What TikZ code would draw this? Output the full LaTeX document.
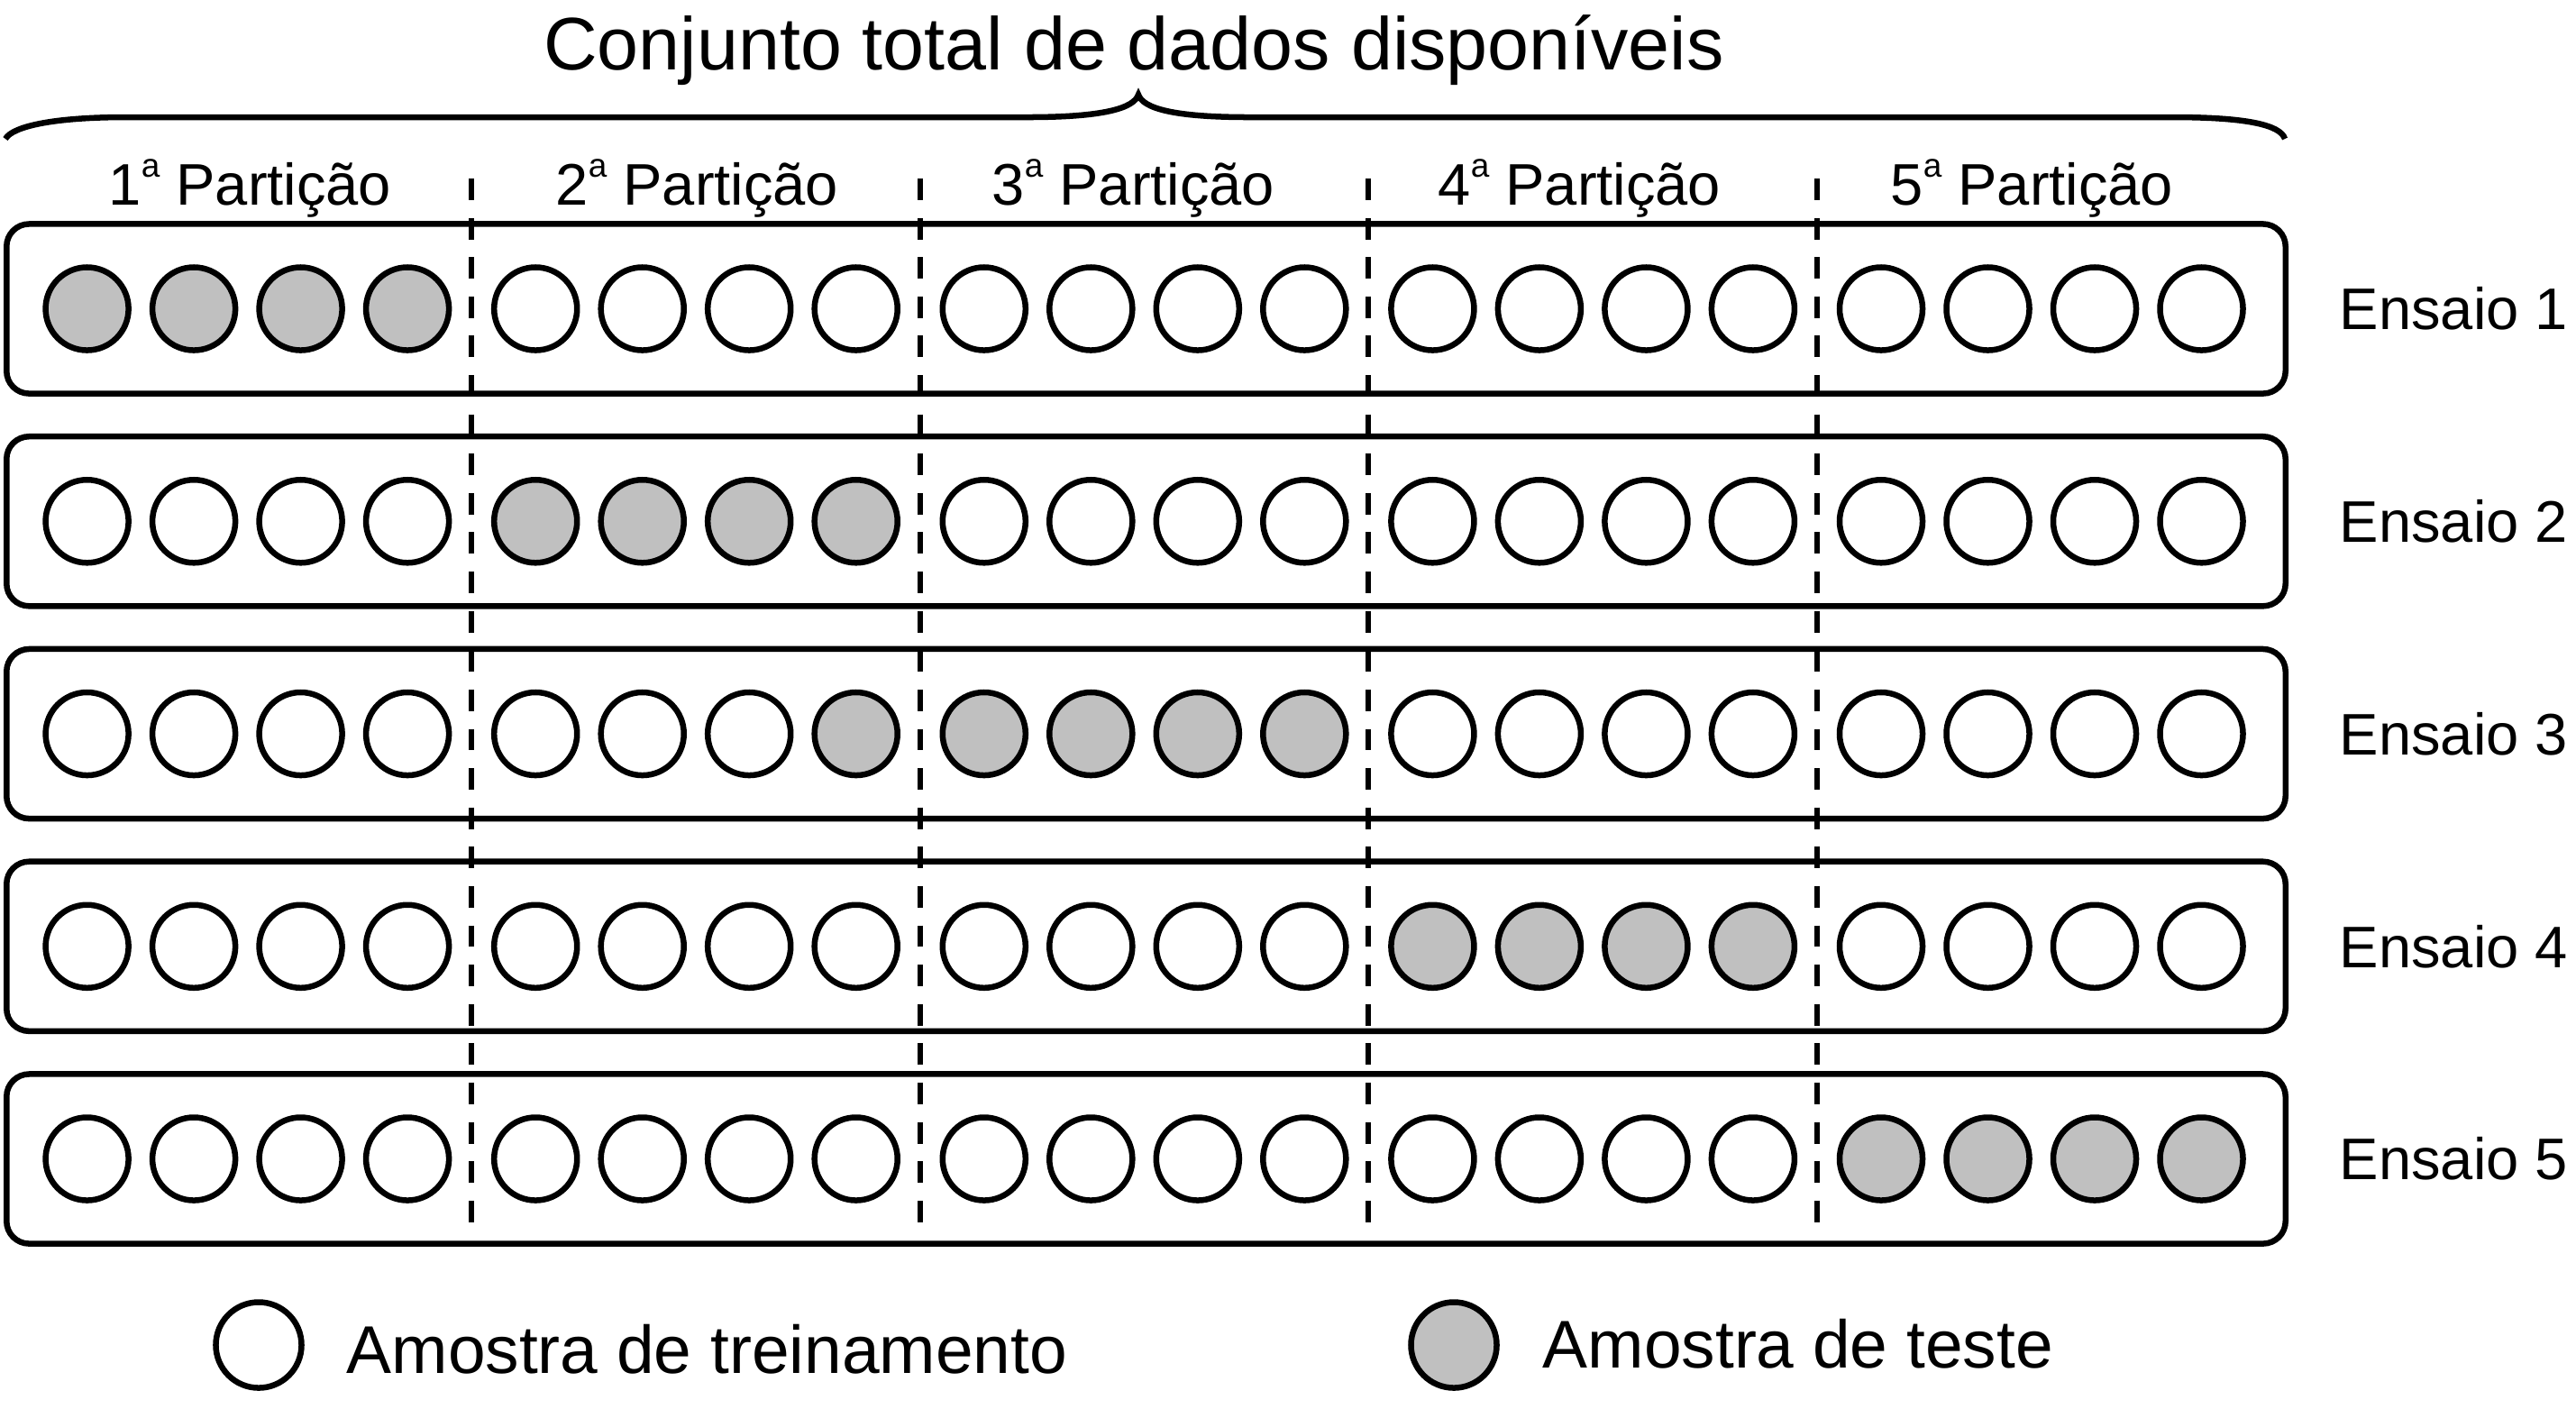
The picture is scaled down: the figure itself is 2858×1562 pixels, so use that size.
\documentclass[tikz,border=0pt]{standalone}
\usepackage{fontspec}
\setmainfont{Liberation Sans}
\definecolor{testgray}{RGB}{192,192,192}
\newcommand\ordA{\raisebox{8.6pt}{\fontsize{10.5}{12}\selectfont a}}
\tikzset{
  rowbox/.style={draw, line width=1.85pt, rounded corners=0.25cm, minimum width=25.27cm, minimum height=1.88cm, inner sep=0pt},
  sample/.style={circle, draw, line width=1.85pt, minimum size=0.92cm, inner sep=0pt, fill=white},
  sepline/.style={line width=1.75pt, dash pattern=on 6.8pt off 5.6pt},
  bracestyle/.style={line width=1.85pt},
  lbl/.style={inner sep=0pt, font=\fontsize{18.5}{22}\selectfont},
  legtext/.style={inner sep=0pt, anchor=base west, font=\fontsize{21.3}{25}\selectfont},
}
\begin{document}
\begin{tikzpicture}[x=0.01cm, y=-0.01cm]
\fill[white] (0,0) rectangle (2858,1562);
\useasboundingbox (0,0) rectangle (2858,1562);

% title and brace
\node[anchor=base, inner sep=0pt, font=\fontsize{23.5}{28}\selectfont] (title) at (1258,77) {Conjunto total de dados disponíveis};
\coordinate (bL) at (6,154);
\coordinate (bT) at (1263,105);
\coordinate (bR) at (2535,154);
\draw[bracestyle] (bL) .. controls (14,140) and (60,130) .. (140,130) -- (1140,130)
  .. controls (1225,130) and (1258,120) .. (bT)
  .. controls (1268,120) and (1301,130) .. (1386,130) -- (2410,130)
  .. controls (2490,130) and (2530,138) .. (bR);

% partition labels
\node[lbl, anchor=base west] (p1) at (120,227) {1\ordA\ Partição};
\node[lbl, anchor=base west] (p2) at (616,227) {2\ordA\ Partição};
\node[lbl, anchor=base west] (p3) at (1100,227) {3\ordA\ Partição};
\node[lbl, anchor=base west] (p4) at (1595,227) {4\ordA\ Partição};
\node[lbl, anchor=base west] (p5) at (2097,227) {5\ordA\ Partição};

% rows
\foreach \r in {1,...,5}{
  \pgfmathsetmacro\yy{342.5+235.75*(\r-1)}
  \node[rowbox] (row\r) at (1271.5,\yy) {};
  \node[lbl, anchor=west] (ens\r) at (2595,\yy) {Ensaio \r};
}

% dashed separators
\foreach \g in {1,...,4}{
  \pgfmathsetmacro\xx{523+497.6*(\g-1)}
  \coordinate (dtop\g) at (\xx,198);
  \coordinate (dbot\g) at (\xx,1362);
  \draw[sepline] (dtop\g) -- (dbot\g);
}

% samples
\foreach \r in {1,...,5}{
  \foreach \g in {0,...,4}{
    \foreach \k in {0,...,3}{
      \pgfmathsetmacro\xx{96.6+497.6*\g+118.5*\k}
      \pgfmathsetmacro\yy{342.5+235.75*(\r-1)}
      \pgfmathtruncatemacro\isgray{or(\g==(\r-1), and(\r==3, and(\g==1, \k==3)))}
      \ifnum\isgray=1 \def\fc{testgray}\else\def\fc{white}\fi
      \node[sample, fill=\fc] (c\r-\g-\k) at (\xx,\yy) {};
    }
  }
}

% legend
\node[sample, minimum size=0.95cm] (legw) at (287,1492) {};
\node[legtext] (legwt) at (384,1523) {Amostra de treinamento};
\node[sample, minimum size=0.95cm, fill=testgray] (legg) at (1613,1492) {};
\node[legtext] (leggt) at (1711,1517) {Amostra de teste};
\end{tikzpicture}
\end{document}
